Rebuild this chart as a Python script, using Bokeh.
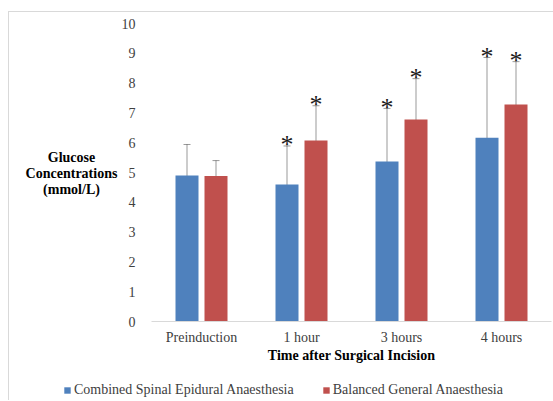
from bokeh.plotting import figure
from bokeh.models import (FactorRange, Range1d, Whisker, TeeHead, ColumnDataSource,
                          Legend, LegendItem, FixedTicker, Div)
from bokeh.layouts import row, column
from bokeh.transform import dodge
from bokeh.core.properties import value
from bokeh.embed import file_html
from bokeh.resources import INLINE

categories = ["Preinduction", "1 hour", "3 hours", "4 hours"]
csea_mean = [4.90, 4.60, 5.37, 6.17]
csea_sd = [1.04, 1.29, 1.78, 2.69]
bga_mean = [4.88, 6.07, 6.78, 7.28]
bga_sd = [0.52, 1.17, 1.37, 1.44]
significant = [False, True, True, True]
series_names = ["Combined Spinal Epidural Anaesthesia", "Balanced General Anaesthesia"]
y_ticks = list(range(0, 11))
y_title_lines = ["Glucose", "Concentrations", "(mmol/L)"]
x_title = "Time after Surgical Incision"

FONT = "Liberation Serif"
BLUE = "#4f81bd"
RED = "#c0504d"
colors = [BLUE, RED]
offsets = [-0.145, 0.145]

p = figure(x_range=FactorRange(factors=categories), y_range=Range1d(0, 10),
           width=435, height=359, output_backend="svg", toolbar_location=None,
           min_border_left=33, min_border_right=2, min_border_top=11, min_border_bottom=50)
p.outline_line_color = None
p.border_fill_color = None
p.xgrid.grid_line_color = None
p.ygrid.grid_line_color = None

def make_source(means, sds):
    return ColumnDataSource(dict(
        cat=categories, mean=means,
        upper=[m + s for m, s in zip(means, sds)],
        lower=[m - s for m, s in zip(means, sds)],
    ))

sources = [make_source(csea_mean, csea_sd), make_source(bga_mean, bga_sd)]

for src, means, sds, off, color in zip(sources, [csea_mean, bga_mean], [csea_sd, bga_sd], offsets, colors):
    p.vbar(x=dodge("cat", off, range=p.x_range), top="mean", bottom=0, width=0.23,
           source=src, fill_color=color, line_color=None)
    w = Whisker(base=dodge("cat", off, range=p.x_range), upper="upper", lower="lower", source=src,
                line_color="black", line_alpha=0.4, line_width=1,
                upper_head=TeeHead(size=7, line_color="black", line_alpha=0.4, line_width=1),
                lower_head=TeeHead(size=7, line_color="black", line_alpha=0.4, line_width=1))
    p.add_layout(w)
    sig_cats = [c for c, s in zip(categories, significant) if s]
    sig_up = [m + s for m, s, f in zip(means, sds, significant) if f]
    star_src = ColumnDataSource(dict(cat=sig_cats, y=sig_up, t=["*"] * len(sig_cats)))
    p.text(x=dodge("cat", off, range=p.x_range), y="y", text="t", source=star_src,
           text_font=value(FONT), text_font_size="26px", text_color="#1a1a1a",
           text_align="center", text_baseline="alphabetic", y_offset=-1)

p.xaxis.axis_line_color = "#d9d9d9"
p.xaxis.major_tick_line_color = None
p.xaxis.minor_tick_line_color = None
p.xaxis.major_label_text_font = FONT
p.xaxis.major_label_text_font_size = "14px"
p.xaxis.major_label_text_color = "#404040"
p.xaxis.major_label_standoff = 2
p.xaxis.axis_label = x_title
p.xaxis.axis_label_text_font = FONT
p.xaxis.axis_label_text_font_size = "14px"
p.xaxis.axis_label_text_font_style = "bold"
p.xaxis.axis_label_text_color = "black"
p.xaxis.axis_label_standoff = 0

p.yaxis.ticker = FixedTicker(ticks=y_ticks)
p.yaxis.axis_line_color = None
p.yaxis.major_tick_line_color = None
p.yaxis.minor_tick_line_color = None
p.yaxis.major_label_text_font = FONT
p.yaxis.major_label_text_font_size = "14px"
p.yaxis.major_label_text_color = "#404040"
p.yaxis.major_label_standoff = 10

ytitle = Div(text='<div style="position:relative;left:8px;overflow:visible">' + "<br>".join(y_title_lines) + "</div>",
             width=109, height=359, margin=0,
             styles={"font-family": FONT, "font-size": "14px", "font-weight": "bold",
                     "text-align": "center", "line-height": "16px", "color": "black",
                     "white-space": "nowrap", "overflow": "visible",
                     "padding-top": "138px", "box-sizing": "border-box"})

# legend strip: same bars drawn far outside its visible y window, only the legend shows
pl = figure(width=544, height=29, output_backend="svg", toolbar_location=None,
            x_range=FactorRange(factors=categories), y_range=Range1d(100, 101),
            x_axis_location=None, y_axis_location=None,
            min_border_left=0, min_border_right=0, min_border_top=0, min_border_bottom=0)
pl.outline_line_color = None
pl.xgrid.grid_line_color = None
pl.ygrid.grid_line_color = None
items = []
for name, src, off, color in zip(series_names, sources, offsets, colors):
    r = pl.vbar(x=dodge("cat", off, range=pl.x_range), top="mean", bottom=0, width=0.23,
                source=src, fill_color=color, line_color=None)
    items.append(LegendItem(label=name, renderers=[r]))
legend = Legend(items=items, location=(54, 2), orientation="horizontal",
                border_line_color=None, background_fill_alpha=0, padding=0, margin=0,
                spacing=28, glyph_width=8, glyph_height=8, label_standoff=3,
                label_height=14, label_text_font=FONT, label_text_font_size="14px",
                label_text_color="#404040")
pl.add_layout(legend)

layout = column(row(ytitle, p), pl)
layout.styles = {"margin-left": "8px", "margin-top": "11px",
                 "border-top": "1px solid #d9d9d9", "border-left": "1px solid #d9d9d9"}
open("out.html", "w").write(file_html(layout, INLINE))
